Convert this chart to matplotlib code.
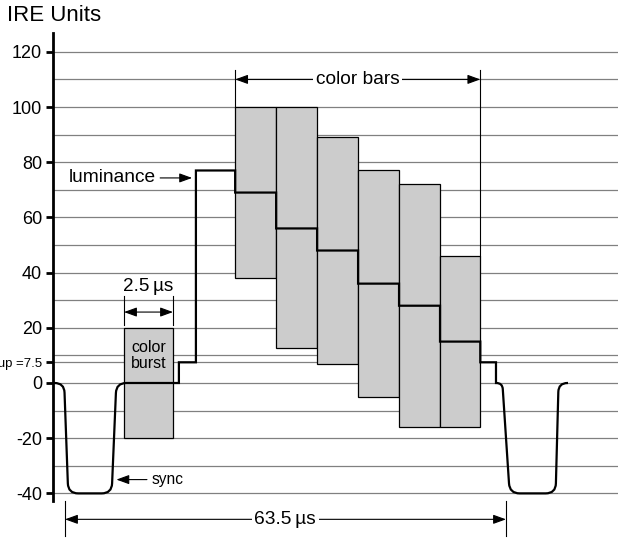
import numpy as np
import matplotlib
matplotlib.use('Agg')
import matplotlib.pyplot as plt
from matplotlib.path import Path
from matplotlib.patches import PathPatch, Rectangle

plt.rcParams['font.family'] = ['Liberation Sans', 'DejaVu Sans']

# time axis in microseconds (as laid out in the drawing), levels in IRE units
wave_t = [-1.58, -0.12, 0.46, 6.72, 7.39, 16.4, 16.4, 18.85, 18.85, 24.5, 24.5,
          30.4, 30.4, 36.3, 36.3, 42.2, 42.2, 48.1, 48.1, 54.0, 54.0, 59.8, 59.8,
          62.06, 62.06, 62.98, 64.03, 70.65, 71.07, 72.43]
wave_v = [0, 0, -40, -40, 0, 0, 7.5, 7.5, 77, 77, 69, 69, 56, 56, 48, 48, 36, 36,
          28, 28, 15, 15, 7.5, 7.5, 0, 0, -40, -40, 0, 0]
round_at = [1, 2, 3, 4, 25, 26, 27, 28]

# colour bars: left/right edge, top and bottom of the chroma envelope
bar_left = [24.5, 30.4, 36.3, 42.2, 48.1, 54.0]
bar_right = [30.4, 36.3, 42.2, 48.1, 54.0, 59.8]
bar_top = [100, 100, 89, 77, 72, 46]
bar_bottom = [38, 12.5, 7, -5, -16, -16]

# colour burst
burst_t = [8.5, 15.55]
burst_v = [-20, 20]

ytick_vals = [-40, -20, 0, 7.5, 20, 40, 60, 80, 100, 120]
ytick_text = ['-40', '-20', '0', 'setup =7.5', '20', '40', '60', '80', '100', '120']
grid_vals = [-40, -30, -20, -10, 0, 7.5, 10, 20, 30, 40, 50, 60, 70, 80, 90, 100, 110, 120]


def rounded_path(ax, xs, ys, corners, r=10.0):
    pts = ax.transData.transform(np.column_stack([xs, ys]))
    verts = [pts[0]]
    codes = [Path.MOVETO]
    for i in range(1, len(pts) - 1):
        p1 = pts[i]
        if i in corners:
            p0, p2 = pts[i - 1], pts[i + 1]
            l1 = np.linalg.norm(p0 - p1)
            l2 = np.linalg.norm(p2 - p1)
            rr = min(r, 0.95 * l1, 0.95 * l2)
            a = p1 + (p0 - p1) / l1 * rr
            b = p1 + (p2 - p1) / l2 * rr
            verts += [a, p1, b]
            codes += [Path.LINETO, Path.CURVE3, Path.CURVE3]
        else:
            verts.append(p1)
            codes.append(Path.LINETO)
    verts.append(pts[-1])
    codes.append(Path.LINETO)
    verts = ax.transData.inverted().transform(np.array(verts))
    return Path(verts, codes)


fig = plt.figure(figsize=(6.18, 5.41), dpi=100)
ax = fig.add_axes([53 / 618, 0, 565 / 618, 1])
ax.set_xlim(-1.73, 79.63)
ax.set_ylim(-57.25, 138.77)
ax.patch.set_visible(False)

for s in ['top', 'right', 'bottom']:
    ax.spines[s].set_visible(False)
ax.spines['left'].set_linewidth(2)
ax.spines['left'].set_bounds(-42.8, 126.8)
ax.set_xticks([])
ax.set_yticks(ytick_vals)
ax.set_yticklabels(ytick_text)
ax.tick_params(axis='y', length=5, width=2, pad=3, labelsize=13)
ax.get_yticklabels()[3].set_fontsize(9.5)

# grid
for g in grid_vals:
    ax.axhline(g, color='#808080', lw=0.9, zorder=1)

# bars and burst
for l, r, t, b in zip(bar_left, bar_right, bar_top, bar_bottom):
    ax.add_patch(Rectangle((l, b), r - l, t - b, facecolor='#cccccc',
                           edgecolor='black', lw=0.9, zorder=2))
ax.add_patch(Rectangle((burst_t[0], burst_v[0]), burst_t[1] - burst_t[0],
                       burst_v[1] - burst_v[0], facecolor='#cccccc',
                       edgecolor='black', lw=0.9, zorder=2))
ax.text(np.mean(burst_t), 10, 'color\nburst', ha='center', va='center',
        fontsize=11.5, linespacing=1.05, zorder=4)

# waveform
wave = rounded_path(ax, wave_t, wave_v, round_at)
ax.add_patch(PathPatch(wave, facecolor='none', edgecolor='black', lw=1.6,
                       joinstyle='miter', zorder=3))

arrow = dict(arrowstyle='<|-|>,head_length=0.55,head_width=0.2', color='black',
             lw=0.8, shrinkA=0, shrinkB=0, mutation_scale=14)
arrow1 = dict(arrow, arrowstyle='-|>,head_length=0.55,head_width=0.2')


def dimension(x0, x1, y, lo, hi, label, tx, size=13.8):
    ax.plot([x0, x0], [lo[0], hi], color='black', lw=0.8, zorder=4)
    ax.plot([x1, x1], [lo[1], hi], color='black', lw=0.8, zorder=4)
    ax.annotate('', xy=(x1, y), xytext=(x0, y), arrowprops=arrow, zorder=5)
    if label:
        ax.text(tx, y, label, ha='center', va='center', fontsize=size, zorder=6,
                bbox=dict(facecolor='white', edgecolor='none', pad=2))


# colour bars span
dimension(bar_left[0], bar_right[-1], 110, (bar_top[0], bar_top[-1]), 113.5,
          'color bars', 42.15)
# burst width
dimension(burst_t[0], burst_t[1], 25.7, (21, 21), 31.6, None, 0)
ax.text(np.mean(burst_t), 35, '2.5\u2009\u00b5s', ha='center', va='center', fontsize=13.6)
# line period
dimension(0, 63.5, -49.4, (-42.9, -42.9), -55.6, '63.5\u2009\u00b5s', 31.7)

# luminance / sync callouts
ax.text(13.1, 74.3, 'luminance', ha='right', va='center', fontsize=13.8)
ax.annotate('', xy=(18.3, 74.3), xytext=(13.7, 74.3), arrowprops=arrow1)
ax.text(12.5, -35, 'sync', ha='left', va='center', fontsize=11.2)
ax.annotate('', xy=(7.4, -35), xytext=(11.8, -35), arrowprops=arrow1)

fig.text(7 / 618, 1 - 21 / 541, 'IRE Units', ha='left', va='baseline', fontsize=16)

fig.savefig('out.png', dpi=100)
